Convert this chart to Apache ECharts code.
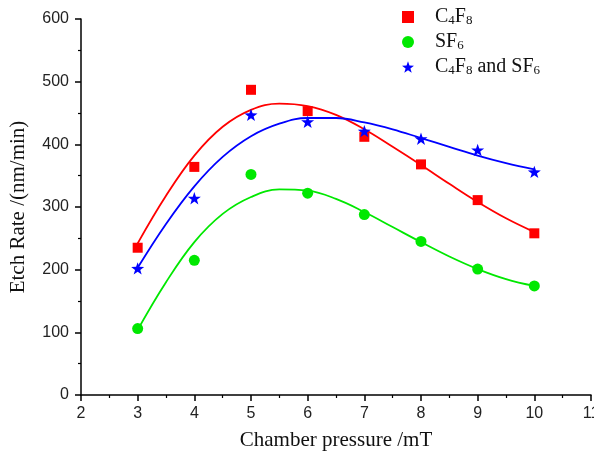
<!DOCTYPE html>
<html>
<head>
<meta charset="utf-8">
<script src="https://cdn.jsdelivr.net/npm/echarts@6/dist/echarts.min.js"></script>
<style>
  html, body { margin: 0; padding: 0; background: #fff; }
  #chart { width: 594px; height: 456px; }
</style>
</head>
<body>
<div id="chart"></div>
<script>
// measured points
const pressure = [3, 4, 5, 6, 7, 8, 9, 10];
const c4f8 = [235, 364, 487, 453, 412, 368, 311, 258];
const sf6 = [106, 215, 352, 322, 288, 245, 201, 174];
const mixed = [202, 314, 447, 436, 421, 409, 391, 356];

// fitted curves, every 0.5 mT
const fitX = [3, 3.5, 4, 4.5, 5, 5.5, 6, 6.5, 7, 7.5, 8, 8.5, 9, 9.5, 10];
const c4f8Fit = [242, 318, 382, 428, 455, 465, 461, 447, 424, 396, 367, 337, 308, 282, 260];
const sf6Fit = [104, 180, 244, 289, 316, 328, 326, 313, 292, 268, 244, 221, 201, 185, 174];
const mixedFit = [203, 273, 333, 380, 413, 433, 442, 442, 435, 424, 410, 396, 382, 370, 360];

const yTicks = [0, 100, 200, 300, 400, 500, 600];

const RED = "#ff0000";
const GREEN = "#00e800";
const BLUE = "#0000ff";
const STAR = "path://M0,-10L2.35,-3.24L9.51,-3.09L3.8,1.24L5.88,8.09L0,4L-5.88,8.09L-3.8,1.24L-9.51,-3.09L-2.35,-3.24Z";

const pairs = (xs, ys) => xs.map((x, i) => [x, ys[i]]);

const fitLine = (name, ys, color) => ({
  name: name,
  type: "line",
  data: pairs(fitX, ys),
  smooth: 0.4,
  showSymbol: false,
  silent: true,
  lineStyle: { color: color, width: 1.8 },
  z: 2,
});

const points = (name, ys, color, symbol, size) => ({
  name: name,
  type: "scatter",
  data: pairs(pressure, ys),
  symbol: symbol,
  symbolSize: size,
  symbolKeepAspect: true,
  itemStyle: { color: color, opacity: 1 },
  z: 3,
});

const chart = echarts.init(document.getElementById("chart"));
const option = {
  animation: false,
  backgroundColor: "#fff",
  grid: { left: 81, right: 3, top: 19, bottom: 61, outerBoundsMode: "none", containLabel: false },
  legend: {
    orient: "vertical",
    left: 397,
    top: 2,
    itemGap: 5,
    itemWidth: 12,
    itemHeight: 12,
    data: [
      { name: "C4F8", icon: "rect" },
      { name: "SF6", icon: "circle" },
      { name: "mix", icon: STAR },
    ],
    formatter: function (name) {
      if (name === "C4F8") return "{n|C}{s|4}{n|F}{s|8}";
      if (name === "SF6") return "{n|SF}{s|6}";
      return "{n|C}{s|4}{n|F}{s|8}{n| and SF}{s|6}";
    },
    textStyle: {
      padding: [0, 0, 0, 16],
      rich: {
        n: { fontFamily: "Liberation Serif", fontSize: 20, color: "#111", lineHeight: 20, verticalAlign: "bottom" },
        s: { fontFamily: "Liberation Serif", fontSize: 13, color: "#111", lineHeight: 19, verticalAlign: "bottom" },
      },
    },
  },
  xAxis: {
    type: "value",
    min: 2,
    max: 11,
    interval: 1,
    name: "Chamber pressure /mT",
    nameLocation: "middle",
    nameGap: 35,
    nameTextStyle: { fontFamily: "Liberation Serif", fontSize: 21, color: "#111" },
    axisLine: { lineStyle: { color: "#000", width: 1.5 } },
    axisTick: { length: 6, lineStyle: { color: "#000", width: 1.5 } },
    minorTick: { show: true, splitNumber: 2, length: 3, lineStyle: { color: "#000", width: 1.2 } },
    splitLine: { show: false },
    axisLabel: { fontFamily: "Liberation Sans", fontSize: 16, color: "#222", margin: 11 },
  },
  yAxis: {
    type: "value",
    min: yTicks[0],
    max: yTicks[yTicks.length - 1],
    interval: 100,
    name: "Etch Rate /(nm/min)",
    nameLocation: "middle",
    nameGap: 52,
    nameTextStyle: { fontFamily: "Liberation Serif", fontSize: 21, color: "#111" },
    axisLine: { show: true, lineStyle: { color: "#000", width: 1.5 } },
    axisTick: { show: true, length: 6, lineStyle: { color: "#000", width: 1.5 } },
    minorTick: { show: true, splitNumber: 2, length: 3, lineStyle: { color: "#000", width: 1.2 } },
    splitLine: { show: false },
    axisLabel: { fontFamily: "Liberation Sans", fontSize: 16, color: "#222", margin: 12 },
  },
  series: [
    fitLine("C4F8 fit", c4f8Fit, RED),
    fitLine("SF6 fit", sf6Fit, GREEN),
    fitLine("mix fit", mixedFit, BLUE),
    points("C4F8", c4f8, RED, "rect", 10),
    points("SF6", sf6, GREEN, "circle", 11),
    points("mix", mixed, BLUE, STAR, 13),
  ],
};
chart.setOption(option);
</script>
</body>
</html>
